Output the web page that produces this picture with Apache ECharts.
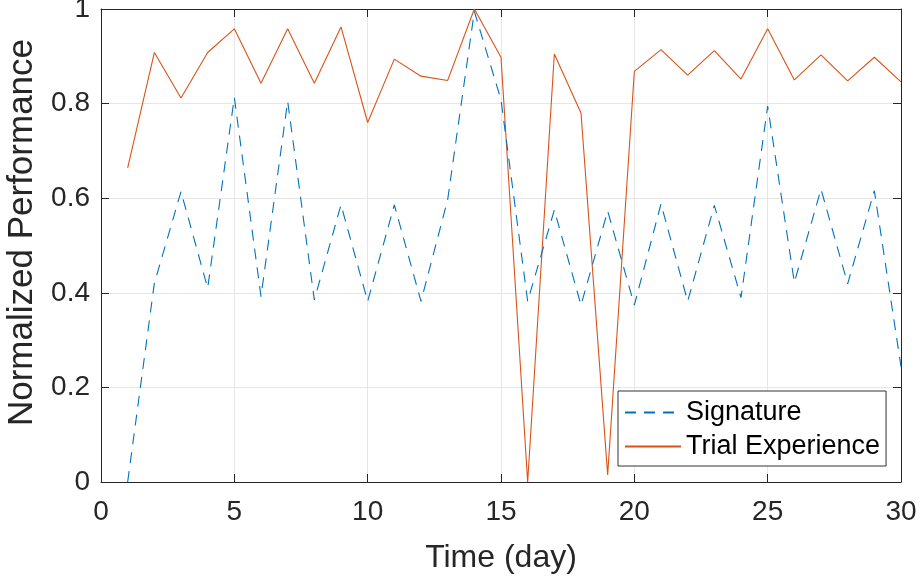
<!DOCTYPE html>
<html>
<head>
<meta charset="utf-8">
<script src="https://cdn.jsdelivr.net/npm/echarts@6/dist/echarts.min.js"></script>
<style>
  html, body { margin: 0; padding: 0; background: #fff; }
  #chart { width: 920px; height: 581px; }
</style>
</head>
<body>
<div id="chart"></div>
<script>
// days 1..30
const days = [1, 2, 3, 4, 5, 6, 7, 8, 9, 10, 11, 12, 13, 14, 15,
  16, 17, 18, 19, 20, 21, 22, 23, 24, 25, 26, 27, 28, 29, 30];
const signature = [0, 0.42, 0.614, 0.41, 0.813, 0.392, 0.805, 0.385, 0.586, 0.382,
  0.586, 0.382, 0.597, 0.995, 0.808, 0.382, 0.575, 0.374, 0.573, 0.374,
  0.588, 0.382, 0.585, 0.39, 0.795, 0.422, 0.619, 0.419, 0.616, 0.244];
const trialExperience = [0.664, 0.908, 0.812, 0.908, 0.958, 0.843, 0.958, 0.843, 0.962, 0.76,
  0.894, 0.858, 0.849, 1.0, 0.898, 0, 0.905, 0.78, 0.015, 0.868,
  0.914, 0.86, 0.912, 0.852, 0.958, 0.85, 0.903, 0.848, 0.898, 0.846];
const seriesNames = ['Signature', 'Trial Experience'];

const axisColor = '#262626';
const font = 'Liberation Sans, Arial, Helvetica, sans-serif';

const chart = echarts.init(document.getElementById('chart'), null, { renderer: 'canvas' });

const pairs = (ys) => days.map((d, i) => [d, ys[i]]);

const baseX = {
  type: 'value', min: 0, max: 30, interval: 5,
  axisLine: { show: true, onZero: false, lineStyle: { color: axisColor, width: 1 } },
  axisTick: { show: true, inside: true, length: 8, lineStyle: { color: axisColor } },
  splitLine: { show: false }
};
const baseY = {
  type: 'value', min: 0, max: 1, interval: 0.2,
  axisLine: { show: true, onZero: false, lineStyle: { color: axisColor, width: 1 } },
  axisTick: { show: true, inside: true, length: 8, lineStyle: { color: axisColor } },
  splitLine: { show: false }
};

chart.setOption({
  animation: false,
  backgroundColor: '#ffffff',
  grid: { left: 101, right: 19, top: 9, bottom: 99, containLabel: false, outerBoundsMode: 'none' },
  xAxis: [
    Object.assign({}, baseX, {
      position: 'bottom',
      name: 'Time (day)', nameLocation: 'middle', nameGap: 60,
      nameTextStyle: { fontFamily: font, fontSize: 32, color: axisColor },
      axisLabel: { fontFamily: font, fontSize: 28, color: axisColor, margin: 16 },
      splitLine: { show: true, lineStyle: { color: '#e6e6e6', width: 1 } }
    }),
    Object.assign({}, baseX, { position: 'top', axisLabel: { show: false } })
  ],
  yAxis: [
    Object.assign({}, baseY, {
      position: 'left',
      name: 'Normalized Performance', nameLocation: 'middle', nameGap: 60,
      nameTextStyle: { fontFamily: font, fontSize: 35, color: axisColor, padding: [0, 0, 0, 26] },
      axisLabel: {
        fontFamily: font, fontSize: 28, color: axisColor, margin: 11,
        formatter: (v) => String(Math.round(v * 10) / 10)
      },
      splitLine: { show: true, lineStyle: { color: '#e6e6e6', width: 1 } }
    }),
    Object.assign({}, baseY, { position: 'right', axisLabel: { show: false } })
  ],
  legend: {
    orient: 'vertical',
    left: 618, top: 391,
    backgroundColor: '#ffffff',
    borderColor: '#333333', borderWidth: 1, borderRadius: 0,
    padding: [8, 6, 6, 6],
    itemGap: 7,
    itemWidth: 56, itemHeight: 14,
    itemStyle: { opacity: 0 },
    textStyle: { fontFamily: font, fontSize: 27, color: '#000000' },
    data: seriesNames
  },
  series: [
    {
      name: seriesNames[0], type: 'line', data: pairs(signature),
      showSymbol: false, symbol: 'none',
      lineStyle: { color: '#0072BD', width: 1.1, type: [11, 8] },
      itemStyle: { color: '#0072BD' },
      z: 3
    },
    {
      name: seriesNames[1], type: 'line', data: pairs(trialExperience),
      showSymbol: false, symbol: 'none',
      lineStyle: { color: '#D95319', width: 1.1 },
      itemStyle: { color: '#D95319' },
      z: 2
    }
  ]
});
</script>
</body>
</html>
